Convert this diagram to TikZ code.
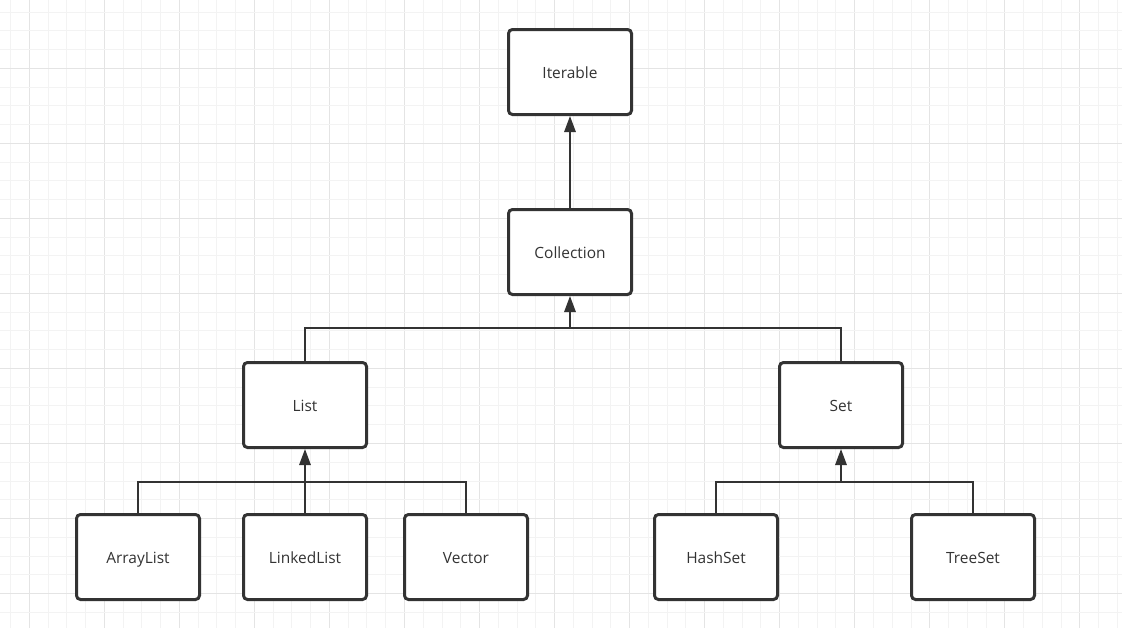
\documentclass[tikz,border=0pt]{standalone}
\usepackage{fontspec}
\setmainfont{Open Sans}
\usetikzlibrary{arrows.meta}
\definecolor{ink}{HTML}{333333}
\definecolor{gminor}{HTML}{F3F3F3}
\definecolor{gmajor}{HTML}{E4E4E4}
\tikzset{
  box/.style={draw=ink, line width=2.25pt, rounded corners=3pt, fill=white,
    minimum width=92.25pt, minimum height=63.75pt, inner sep=0pt,
    text height=12pt, text depth=2.2pt,
    text=ink, font=\fontsize{11.6pt}{13pt}\selectfont},
  conn/.style={draw=ink, line width=1.5pt},
  arr/.style={conn, -{Triangle[length=12pt, width=8.5pt]}},
}
\begin{document}
\begin{tikzpicture}[x=0.75pt, y=-0.75pt]
\useasboundingbox (0,0) rectangle (1122,628);
\fill[white] (0,0) rectangle (1122,628);
% grid
\foreach \i in {0,...,60} {
  \pgfmathsetmacro{\xx}{10.54+18.76*\i}
  \pgfmathtruncatemacro{\m}{mod(\i,4)}
  \ifnum\m=1 \draw[gmajor, line width=0.75pt] (\xx,0) -- (\xx,628);
  \else \draw[gminor, line width=0.75pt] (\xx,0) -- (\xx,628); \fi
}
\foreach \i in {0,...,33} {
  \pgfmathsetmacro{\yy}{12.02+18.76*\i}
  \pgfmathtruncatemacro{\m}{mod(\i,4)}
  \ifnum\m=3 \draw[gmajor, line width=0.75pt] (0,\yy) -- (1122,\yy);
  \else \draw[gminor, line width=0.75pt] (0,\yy) -- (1122,\yy); \fi
}
% nodes
\node[box] (iter) at (570,72) {Iterable};
\node[box] (coll) at (570,252) {Collection};
\node[box] (list) at (305,405) {List};
\node[box] (set)  at (841,405) {Set};
\node[box] (al)   at (138,557) {ArrayList};
\node[box] (ll)   at (305,557) {LinkedList};
\node[box] (vec)  at (466,557) {Vector};
\node[box] (hs)   at (716,557) {HashSet};
\node[box] (ts)   at (973,557) {TreeSet};
% junctions
\coordinate (j1) at (570,328);
\coordinate (j2) at (305,482);
\coordinate (j3) at (841,482);
% connectors
\draw[arr] (coll.north) -- (iter.south);
\draw[conn] (list.north) -- (list.north |- j1) -- (set.north |- j1) -- (set.north);
\draw[arr] (j1) -- (coll.south);
\draw[conn] (al.north) -- (al.north |- j2) -- (vec.north |- j2) -- (vec.north);
\draw[arr] (ll.north) -- (list.south);
\draw[conn] (hs.north) -- (hs.north |- j3) -- (ts.north |- j3) -- (ts.north);
\draw[arr] (j3) -- (set.south);
\end{tikzpicture}
\end{document}
